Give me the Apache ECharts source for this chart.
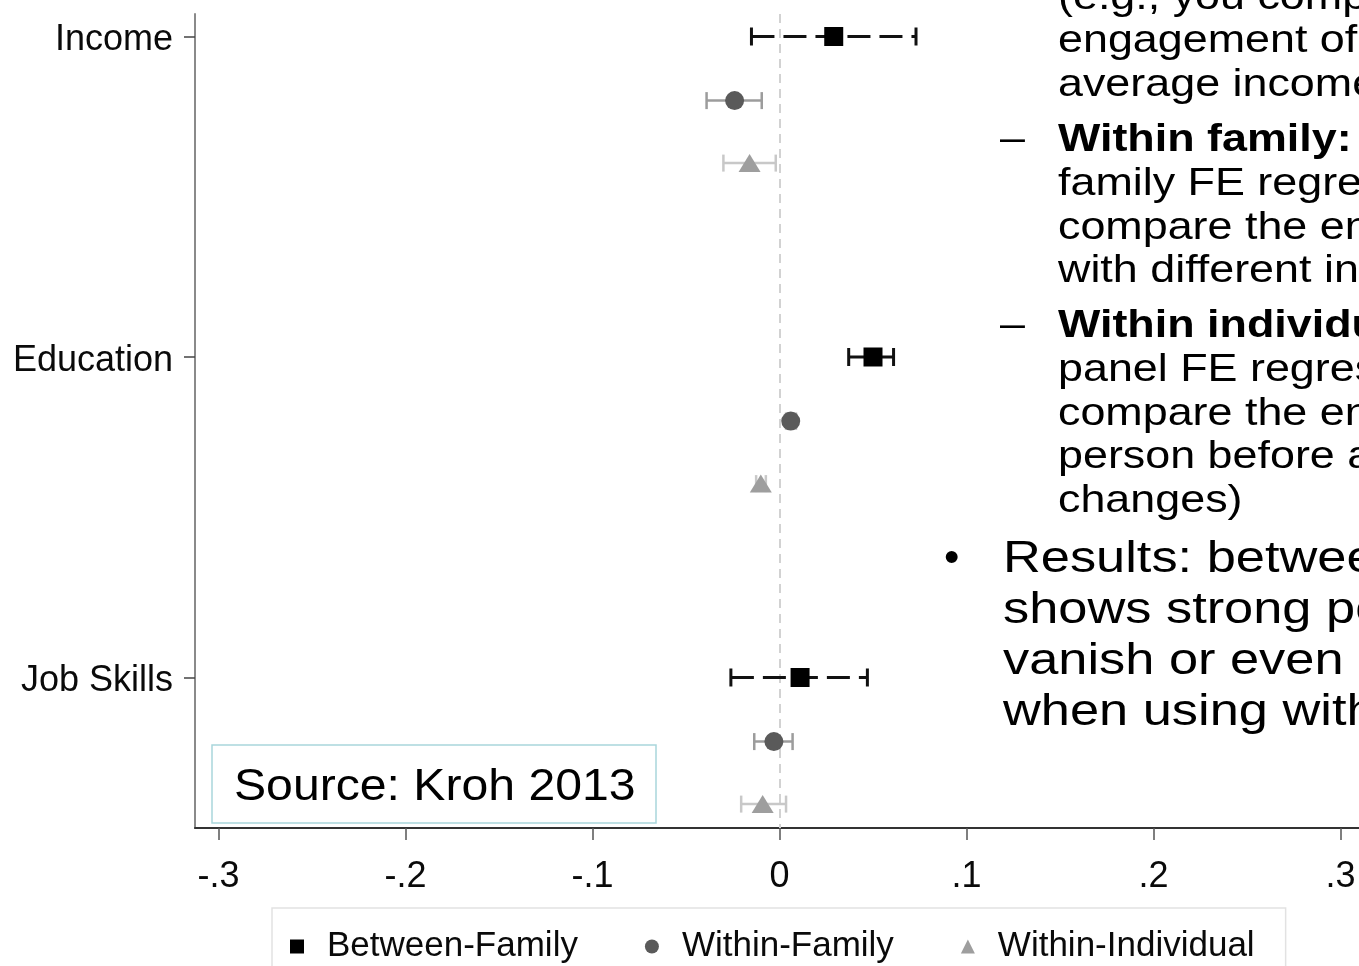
<!DOCTYPE html>
<html>
<head>
<meta charset="utf-8">
<script src="https://cdn.jsdelivr.net/npm/echarts@6/dist/echarts.min.js"></script>
<style>
  html, body { margin: 0; padding: 0; background: #fff; overflow: hidden; }
  #chart { width: 1359px; height: 966px; }
</style>
</head>
<body>
<div id="chart"></div>
<script>
// Outcome rows (top to bottom) and the three estimators
const categories = ['Income', 'Education', 'Job Skills'];
const estimatorNames = ['Between-Family', 'Within-Family', 'Within-Individual'];

// Coefficients with lower / upper confidence bounds, one value per row
const betweenFamily      = [0.029, 0.050, 0.011];
const betweenFamilyLow   = [-0.015, 0.037, -0.026];
const betweenFamilyHigh  = [0.073, 0.061, 0.047];

const withinFamily       = [-0.024, 0.006, -0.003];
const withinFamilyLow    = [-0.039, 0.0035, -0.0135];
const withinFamilyHigh   = [-0.0095, 0.0088, 0.007];

const withinIndividual      = [-0.016, -0.010, -0.009];
const withinIndividualLow   = [-0.030, -0.0125, -0.0205];
const withinIndividualHigh  = [-0.002, -0.0073, 0.0035];

// x-axis tick values
const xTicks = [-0.3, -0.2, -0.1, 0, 0.1, 0.2, 0.3];

// ---- layout / styling ----
const rowOffset = [0, 0.2, 0.395];          // vertical offset of each estimator within a row
const categoryPos = [1, 2, 3];
const FONT = '"Liberation Sans", Arial, Helvetica, sans-serif';

const estimators = [
  { name: estimatorNames[0], est: betweenFamily, lo: betweenFamilyLow, hi: betweenFamilyHigh,
    symbol: 'rect', size: 19, color: '#000000', barColor: '#111111', barWidth: 3, dash: [23, 9], cap: 9 },
  { name: estimatorNames[1], est: withinFamily, lo: withinFamilyLow, hi: withinFamilyHigh,
    symbol: 'circle', size: 19, color: '#5a5a5a', barColor: '#9c9c9c', barWidth: 2.5, dash: null, cap: 8.5 },
  { name: estimatorNames[2], est: withinIndividual, lo: withinIndividualLow, hi: withinIndividualHigh,
    symbol: 'triangle', size: [22, 18], color: '#9e9e9e', barColor: '#c8c8c8', barWidth: 2.5, dash: null, cap: 8.5 }
];

function errorBarRenderer(cfg) {
  return function (params, api) {
    const y = api.value(2);
    const a = api.coord([api.value(0), y]);
    const b = api.coord([api.value(1), y]);
    const lineStyle = { stroke: cfg.barColor, lineWidth: cfg.barWidth };
    return {
      type: 'group',
      children: [
        { type: 'line', shape: { x1: a[0], y1: a[1], x2: b[0], y2: b[1] },
          style: Object.assign({}, lineStyle, cfg.dash ? { lineDash: cfg.dash } : {}) },
        { type: 'line', shape: { x1: a[0], y1: a[1] - cfg.cap, x2: a[0], y2: a[1] + cfg.cap }, style: lineStyle },
        { type: 'line', shape: { x1: b[0], y1: b[1] - cfg.cap, x2: b[0], y2: b[1] + cfg.cap }, style: lineStyle }
      ]
    };
  };
}

const series = [];
estimators.forEach(function (cfg, k) {
  series.push({
    type: 'custom',
    name: cfg.name + ' CI',
    renderItem: errorBarRenderer(cfg),
    encode: { x: [0, 1], y: 2 },
    data: categoryPos.map(function (c, i) { return [cfg.lo[i], cfg.hi[i], c + rowOffset[k]]; }),
    z: 2,
    silent: true
  });
});
estimators.forEach(function (cfg, k) {
  const s = {
    type: 'scatter',
    name: cfg.name,
    symbol: cfg.symbol,
    symbolSize: cfg.size,
    itemStyle: { color: cfg.color, opacity: 1 },
    data: categoryPos.map(function (c, i) { return [cfg.est[i], c + rowOffset[k]]; }),
    z: 3
  };
  if (k === 0) {
    // reference line at zero
    s.markLine = {
      silent: true,
      symbol: ['none', 'none'],
      label: { show: false },
      lineStyle: { color: '#d2d2d2', width: 2, type: [9, 6] },
      data: [{ xAxis: 0 }],
      z: 1
    };
  }
  series.push(s);
});

function tickLabel(v) {
  if (Math.abs(v) < 1e-9) return '0';
  return v.toFixed(1).replace('0.', '.');
}

// Slide text beside the plot
const slideGraphics = [];
function addLines(lines, x, firstBaseline, lineStep, fontSize, scaleX, bold) {
  lines.forEach(function (t, i) {
    const baseline = firstBaseline + i * lineStep;
    slideGraphics.push({
      type: 'text',
      x: x,
      y: baseline - 0.3465 * fontSize,
      scaleX: scaleX,
      z: 100,
      style: {
        text: t,
        x: 0, y: 0,
        fill: '#000',
        fontSize: fontSize,
        fontFamily: FONT,
        fontWeight: (bold && i === 0) ? 'bold' : 'normal',
        align: 'left', verticalAlign: 'middle',
        textAlign: 'left', textVerticalAlign: 'middle'
      }
    });
  });
}
const SUB_F = 39, SUB_SX = 1.15, SUB_STEP = 43.7;
const TOP_F = 44, TOP_SX = 1.19, TOP_STEP = 51;
addLines(['(e.g., you compare the', 'engagement of', 'average income'], 1058, 11.5, SUB_STEP, SUB_F, SUB_SX, false);
addLines(['\u2013'], 1000, 154, SUB_STEP, SUB_F, SUB_SX, false);
addLines(['Within family:', 'family FE regression:', 'compare the engagement', 'with different income'], 1058, 154, SUB_STEP, SUB_F, SUB_SX, true);
addLines(['\u2013'], 1000, 340, SUB_STEP, SUB_F, SUB_SX, false);
addLines(['Within individual:', 'panel FE regression:', 'compare the engagement', 'person before and after', 'changes)'], 1058, 340, SUB_STEP, SUB_F, SUB_SX, true);
addLines(['\u2022'], 944, 575, TOP_STEP, TOP_F, 1, false);
addLines(['Results: between', 'shows strong positive', 'vanish or even', 'when using within'], 1003, 575, TOP_STEP, TOP_F, TOP_SX, false);

// Source note box
slideGraphics.push({
  type: 'rect',
  z: 100,
  shape: { x: 212, y: 745, width: 444, height: 78 },
  style: { fill: '#ffffff', stroke: '#a9d6dc', lineWidth: 1.5 }
});
slideGraphics.push({
  type: 'text',
  z: 101,
  x: 234,
  y: 803 - 0.3465 * 45,
  scaleX: 1.07,
  style: {
    text: 'Source: Kroh 2013', x: 0, y: 0, fill: '#000',
    fontSize: 45, fontFamily: FONT,
    align: 'left', verticalAlign: 'middle', textAlign: 'left', textVerticalAlign: 'middle'
  }
});

const chart = echarts.init(document.getElementById('chart'), null, { renderer: 'canvas' });
chart.setOption({
  backgroundColor: '#ffffff',
  animation: false,
  textStyle: { fontFamily: FONT },
  grid: { left: 195, top: 14, width: 1169, height: 814, containLabel: false, outerBoundsMode: 'none' },
  xAxis: {
    type: 'value',
    min: -0.31257,
    max: 0.31257,
    axisLine: { show: true, onZero: false, lineStyle: { color: '#333333', width: 2 } },
    axisTick: { show: true, customValues: xTicks, length: 12, lineStyle: { color: '#555555', width: 1.5 } },
    axisLabel: { customValues: xTicks, formatter: tickLabel, fontSize: 36, color: '#0a0a0a', margin: 31, fontFamily: FONT },
    splitLine: { show: false }
  },
  yAxis: {
    type: 'value',
    inverse: true,
    min: 0.9298,
    max: 3.4696,
    axisLine: { show: true, onZero: false, lineStyle: { color: '#8a8a8a', width: 2 } },
    axisTick: { show: true, customValues: categoryPos, length: 11, lineStyle: { color: '#444444', width: 1.5 } },
    axisLabel: {
      customValues: categoryPos,
      formatter: function (v) { return categories[Math.round(v) - 1]; },
      fontSize: 36, color: '#0a0a0a', margin: 22, fontFamily: FONT,
      verticalAlign: 'top', lineHeight: 8
    },
    splitLine: { show: false }
  },
  legend: {
    left: 272,
    top: 908,
    orient: 'horizontal',
    padding: [21, 31, 20, 18],
    borderColor: '#e2e2e2',
    borderWidth: 1.5,
    itemWidth: 14,
    itemHeight: 14,
    itemGap: 67,
    selectedMode: false,
    textStyle: { fontSize: 35, color: '#0a0a0a', fontFamily: FONT, padding: [0, 0, 0, 18] },
    data: [
      { name: estimatorNames[0], icon: 'rect' },
      { name: estimatorNames[1], icon: 'circle' },
      { name: estimatorNames[2], icon: 'triangle' }
    ]
  },
  graphic: slideGraphics,
  series: series
});
</script>
</body>
</html>
